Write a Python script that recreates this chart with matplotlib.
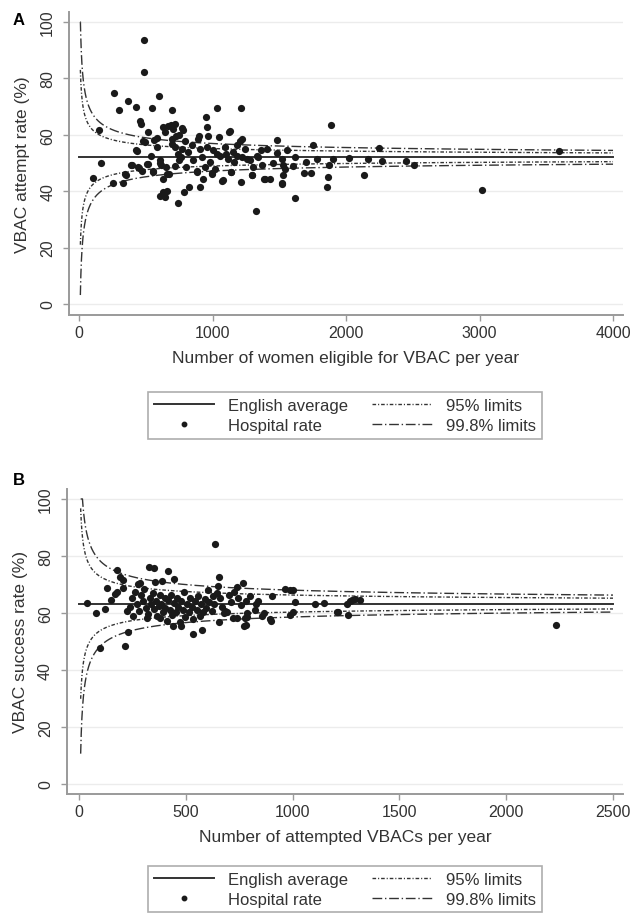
import numpy as np
import matplotlib
matplotlib.use('Agg')
import matplotlib.pyplot as plt
from matplotlib.lines import Line2D

plt.rcParams['font.family'] = ['Liberation Sans', 'DejaVu Sans']

# ---- panel A: attempt rate vs women eligible ----
avg_a = 52.0
a_x = [487, 487, 262, 369, 597, 300, 429, 545, 699, 1034, 1211,
       457, 466, 632, 690, 705, 720, 777, 949, 956, 152,
       477, 519, 587, 899, 1046, 1126, 1221, 1206, 1480, 1755, 1131, 964,
       645, 670, 750, 770, 694, 719, 769, 794, 894, 906, 582, 427, 432, 494,
       744, 764, 749, 919,
       167, 107, 252, 352, 392, 452, 519, 557, 607, 627, 657,
       607, 632, 644, 657, 743, 787, 827, 906, 926, 881, 996, 1079, 1141,
       1216, 1298, 1326, 1393, 1431, 1521, 1618, 1685, 1738,
       1885, 2247, 3593, 1905, 2022, 2162, 2272, 2447, 2509, 1875, 1865,
       1855, 2135, 3019,
       1031, 1056, 1119, 1181, 1218, 1256, 1331, 1343, 1243, 1156, 1281,
       1363, 1406, 1555, 1618, 1518, 1531, 1543, 1526, 1518, 1373, 944,
       993, 1068, 1139, 1293, 1388,
       394, 444, 469, 507, 557, 607, 614, 649, 674, 719, 799, 856, 881, 344, 327,
       960, 1000, 1090, 1100, 820, 850, 1160, 1450, 1480, 1600, 1700, 1780,
       980, 1020, 1300, 700, 730, 540, 560, 1180]
a_y = [93.4, 82.1, 74.9, 72.1, 73.6, 68.8, 69.7, 69.4, 68.8, 69.4, 69.6,
       64.9, 63.8, 62.6, 63.5, 62.2, 63.8, 61.5, 66.2, 62.9, 61.5,
       57.6, 60.9, 58.8, 59.5, 59.1, 60.9, 58.5, 57.7, 58.0, 56.2, 61.2, 59.4,
       61.0, 63.0, 60.0, 62.5, 56.7, 55.5, 55.0, 57.9, 58.5, 55.0, 55.5, 54.6, 54.4, 57.4,
       53.2, 52.0, 51.1, 52.0,
       49.9, 44.7, 42.8, 45.9, 49.3, 48.1, 49.6, 46.9, 50.0, 44.3, 46.1,
       38.4, 39.6, 37.8, 40.2, 35.8, 39.8, 41.3, 41.3, 44.3, 46.9, 46.4, 44.0, 46.9,
       43.1, 45.9, 32.9, 44.2, 44.2, 42.9, 37.5, 46.3, 46.3,
       63.6, 55.2, 54.4, 51.4, 51.8, 51.4, 50.8, 50.6, 49.3, 49.4, 44.9,
       41.6, 45.6, 40.3,
       53.2, 52.6, 51.4, 52.6, 52.0, 51.4, 52.6, 52.0, 55.0, 53.9, 50.9,
       54.6, 55.0, 54.6, 52.0, 51.4, 49.1, 47.9, 45.6, 42.6, 49.1, 48.4,
       46.1, 43.7, 46.7, 45.6, 44.3,
       49.1, 48.4, 47.3, 49.6, 47.3, 50.9, 49.1, 48.4, 46.1, 48.8, 48.4, 50.9, 47.3, 46.1, 42.8,
       55.5, 54.5, 55.8, 53.0, 54.0, 56.5, 50.5, 50.0, 53.5, 49.0, 50.5, 51.5,
       50.5, 48.0, 48.5, 58.5, 59.5, 52.5, 58.0, 56.5]

# ---- panel B: success rate vs attempted VBACs ----
avg_b = 63.3
b_x = [637, 179, 328, 351, 418, 657, 192, 204, 286, 446, 766, 130, 204, 169, 148,
       738, 652, 39, 78, 122, 226, 254, 317, 98, 217, 228, 535, 577, 655, 782,
       1105, 1011, 988, 1000, 988, 897, 829, 785, 785, 722, 691, 679,
       278, 356, 390, 177, 441, 480, 379, 965, 839, 784, 683, 738, 777, 774,
       855, 894, 1211, 1253, 1269, 1276, 1316, 1206, 1261, 2233,
       240, 250, 262, 270, 281, 292, 300, 306, 314, 322, 331, 337, 346, 351,
       361, 366, 373, 381, 386, 393, 401, 404, 411, 419, 426, 431, 437, 446,
       452, 459, 464, 471, 479, 486, 491, 497, 506, 513, 519, 527, 536, 543,
       551, 557, 566, 573, 581, 589, 597, 606, 611, 621, 627, 634, 646, 661,
       669, 702, 711, 726, 744, 758, 801, 822, 868, 1002, 1148, 1290, 903]
b_y = [84.2, 75.2, 76.3, 75.8, 74.6, 72.7, 72.7, 71.6, 70.5, 71.9, 70.5, 68.9, 68.9, 66.7, 64.7,
       69.0, 69.5, 63.4, 59.9, 61.4, 60.8, 59.1, 58.1, 47.6, 48.5, 53.4, 52.8, 54.0, 56.7, 55.8,
       63.2, 64.0, 68.1, 68.1, 59.3, 57.3, 63.2, 59.9, 58.5, 58.4, 60.5, 60.0,
       70.2, 71.0, 71.1, 67.2, 55.3, 55.3, 58.1, 68.4, 64.3, 64.3, 60.8, 58.4, 58.4, 55.3,
       59.1, 57.9, 60.5, 63.2, 64.3, 64.6, 64.6, 60.2, 59.4, 55.8,
       62.1, 65.3, 67.4, 63.0, 60.8, 66.2, 64.1, 68.3, 61.7, 59.6, 65.1, 63.2, 67.0, 61.4,
       64.2, 58.8, 62.3, 66.4, 63.1, 60.2, 65.2, 61.8, 57.2, 64.4, 61.1, 66.3, 59.2, 63.4,
       60.3, 65.1, 62.2, 56.8, 64.3, 60.9, 67.2, 58.7, 63.1, 60.4, 65.2, 62.0, 57.9, 64.1,
       61.2, 66.1, 59.1, 63.3, 60.2, 64.8, 61.9, 68.2, 63.8, 60.7, 66.0, 63.0, 67.1, 65.2,
       62.1, 66.2, 64.0, 67.3, 65.1, 62.8, 66.0, 61.2, 60.1, 60.2, 63.5, 65.0, 66.1]

# funnel limits (normal approximation around the average)
z95 = 1.96
z998 = 3.09

ink = '#333333'
grey = '#9a9a9a'
dash95 = (2.6, 1.4, 0.8, 1.4)
dash998 = (7, 2, 1, 2)


def funnel(ax, avg, n_min, n_max):
    n = np.geomspace(n_min, n_max, 600)
    p = avg / 100.0
    se = np.sqrt(p * (1 - p) / n) * 100
    for z, dash in [(z95, dash95), (z998, dash998)]:
        up = np.clip(avg + z * se, 0, 100)
        lo = np.clip(avg - z * se, 0, 100)
        ax.plot(n, up, color=ink, lw=1.0, dashes=dash)
        ax.plot(n, lo, color=ink, lw=1.0, dashes=dash)
    ax.plot([0, n_max], [avg, avg], color=ink, lw=1.4)


def style(ax):
    for s in ['top', 'right']:
        ax.spines[s].set_visible(False)
    for s in ['left', 'bottom']:
        ax.spines[s].set_color(grey)
        ax.spines[s].set_linewidth(1.4)
    ax.tick_params(colors=grey, labelcolor=ink, length=4, width=1, labelsize=11.5)
    ax.tick_params(axis='y', pad=6)
    ax.set_yticks([0, 20, 40, 60, 80, 100])
    for lab in ax.get_yticklabels():
        lab.set_rotation(90)
        lab.set_va('center')
    ax.yaxis.grid(True, color='#ececec', lw=1.0)
    ax.set_axisbelow(True)


def legend(fig, top):
    handles = [Line2D([], [], color=ink, lw=1.4),
               Line2D([], [], ls='none', marker='o', ms=3.2, color='#1a1a1a'),
               Line2D([], [], color=ink, lw=1.0, dashes=dash95),
               Line2D([], [], color=ink, lw=1.0, dashes=dash998)]
    labels = ['English average', 'Hospital rate', '95% limits', '99.8% limits']
    leg = fig.legend(handles, labels, ncol=2, loc='upper center',
                     bbox_to_anchor=(0.546, top), frameon=True, fancybox=False,
                     edgecolor=grey, fontsize=12, handlelength=3.6,
                     handletextpad=0.85, columnspacing=1.4, borderpad=0.35,
                     labelspacing=0.3)
    leg.get_frame().set_linewidth(1.2)
    for t in leg.get_texts():
        t.set_color(ink)


fig = plt.figure(figsize=(6.32, 9.2), dpi=100)

ax1 = fig.add_axes([0.1092, 0.6565, 0.8766, 0.3294])
funnel(ax1, avg_a, 10, 4000)
ax1.scatter(a_x, a_y, s=27, color='#1a1a1a', zorder=3, linewidths=0)
ax1.set_xlim(-75, 4075)
ax1.set_ylim(-3.9, 103.5)
ax1.set_xticks([0, 1000, 2000, 3000, 4000])
style(ax1)
ax1.set_ylabel('VBAC attempt rate (%)', fontsize=12.5, color=ink, labelpad=7)
ax1.set_xlabel('Number of women eligible for VBAC per year', fontsize=12.5, color=ink, labelpad=7)
legend(fig, 0.582)
fig.text(0.02, 0.978, 'A', fontsize=12, fontweight='bold', va='center')

ax2 = fig.add_axes([0.106, 0.1359, 0.8798, 0.3315])
funnel(ax2, avg_b, 8, 2500)
ax2.scatter(b_x, b_y, s=27, color='#1a1a1a', zorder=3, linewidths=0)
ax2.set_xlim(-56, 2547)
ax2.set_ylim(-3.5, 103.5)
ax2.set_xticks([0, 500, 1000, 1500, 2000, 2500])
style(ax2)
ax2.set_ylabel('VBAC success rate (%)', fontsize=12.5, color=ink, labelpad=7)
ax2.set_xlabel('Number of attempted VBACs per year', fontsize=12.5, color=ink, labelpad=7)
legend(fig, 0.067)
fig.text(0.02, 0.478, 'B', fontsize=12, fontweight='bold', va='center')

fig.savefig('out.png', dpi=100, facecolor='white')
